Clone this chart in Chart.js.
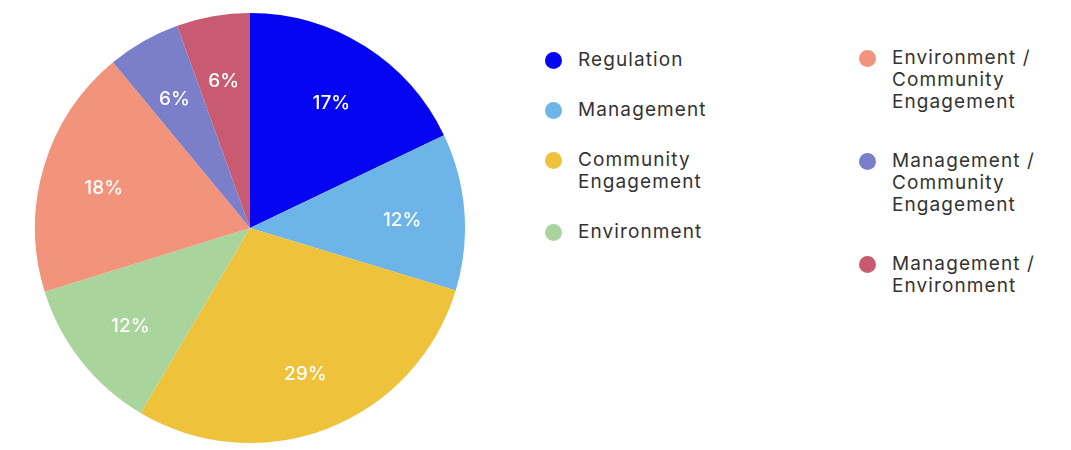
<!DOCTYPE html>
<html>
<head>
<meta charset="utf-8">
<script src="https://cdn.jsdelivr.net/npm/chart.js@4/dist/chart.umd.min.js"></script>
<style>
  html, body { margin: 0; padding: 0; background: #ffffff; }
  body { width: 1071px; height: 450px; position: relative; overflow: hidden; font-family: "Inter", "Roboto", sans-serif; }
  #pieWrap { position: absolute; left: 35px; top: 13px; width: 430px; height: 430px; }
  .col { position: absolute; display: flex; flex-direction: column; }
  #col1 { left: 545px; top: 49px; gap: 28px; }
  #col2 { left: 859px; top: 47px; gap: 37px; }
  .item { display: flex; align-items: flex-start; }
  .dot { width: 17px; height: 17px; border-radius: 50%; flex: 0 0 17px; margin-top: 2.5px; margin-right: 16px; }
  .txt { font-size: 19px; line-height: 22px; color: #333333; letter-spacing: 1.1px; white-space: pre-line; }
</style>
</head>
<body>
<div id="pieWrap"><canvas id="c"></canvas></div>
<div class="col" id="col1"></div>
<div class="col" id="col2"></div>
<script>
const categories = [
  "Regulation",
  "Management",
  "Community Engagement",
  "Environment",
  "Environment / Community Engagement",
  "Management / Community Engagement",
  "Management / Environment"
];
const legendLines = [
  "Regulation",
  "Management",
  "Community\nEngagement",
  "Environment",
  "Environment  /\nCommunity\nEngagement",
  "Management  /\nCommunity\nEngagement",
  "Management  /\nEnvironment"
];
const shares = [17.9, 11.8, 28.8, 11.7, 18.8, 5.5, 5.5];
// percentages printed on the slices
const shareLabels = ["17%", "12%", "29%", "12%", "18%", "6%", "6%"];
const colors = ["#0505f2", "#6db5e9", "#efc23b", "#a9d59c", "#f2937c", "#7b7fc9", "#c85b71"];
const legendColumn = [1, 1, 1, 1, 2, 2, 2];

const labelPlugin = {
  id: 'sliceLabels',
  afterDatasetsDraw(chart) {
    const ctx = chart.ctx;
    const meta = chart.getDatasetMeta(0);
    ctx.save();
    ctx.fillStyle = '#ffffff';
    ctx.font = '500 19px Inter, Roboto, sans-serif';
    ctx.textAlign = 'center';
    ctx.textBaseline = 'middle';
    meta.data.forEach((arc, i) => {
      const p = arc.getProps(['x', 'y', 'startAngle', 'endAngle', 'outerRadius'], true);
      const mid = (p.startAngle + p.endAngle) / 2;
      const r = p.outerRadius * 0.71;
      ctx.fillText(shareLabels[i], p.x + Math.cos(mid) * r, p.y + Math.sin(mid) * r + 4);
    });
    ctx.restore();
  }
};

const chart = new Chart(document.getElementById('c'), {
  type: 'pie',
  data: {
    labels: categories,
    datasets: [{ data: shares, backgroundColor: colors, borderWidth: 0 }]
  },
  options: {
    responsive: true,
    maintainAspectRatio: false,
    animation: false,
    layout: { padding: 0 },
    plugins: { legend: { display: false }, tooltip: { enabled: false } }
  },
  plugins: [labelPlugin]
});

categories.forEach((c, i) => {
  const item = document.createElement('div');
  item.className = 'item';
  const dot = document.createElement('div');
  dot.className = 'dot';
  dot.style.background = chart.data.datasets[0].backgroundColor[i];
  const t = document.createElement('div');
  t.className = 'txt';
  t.textContent = legendLines[i];
  item.appendChild(dot);
  item.appendChild(t);
  document.getElementById(legendColumn[i] === 1 ? 'col1' : 'col2').appendChild(item);
});
</script>
</body>
</html>
